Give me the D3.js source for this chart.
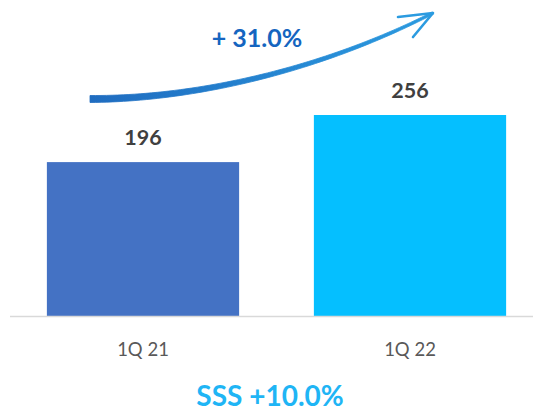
<!DOCTYPE html>
<html>
<head>
<meta charset="utf-8">
<script src="https://cdn.jsdelivr.net/npm/d3@7"></script>
<style>
  html, body { margin: 0; padding: 0; background: #fff; }
  svg { display: block; }
  text { font-family: Lato, "Open Sans", sans-serif; }
</style>
</head>
<body>
<svg id="chart" width="533" height="412"></svg>
<script>
// Quarterly figures
const categories = ["1Q 21", "1Q 22"];
const values = [196, 256];
const barColors = ["#4472C4", "#05BFFF"];
const growthLabel = "+ 31.0%";
const sssLabel = "SSS +10.0%";

const svg = d3.select("#chart");
const baseline = 316;

const x = d3.scaleBand()
  .domain(categories)
  .range([9.5, 543.5])
  .paddingInner(0.28)
  .paddingOuter(0.14);

const y = d3.scaleLinear()
  .domain([0, 256])
  .range([baseline, 115]);

// Bars
svg.selectAll("rect.bar")
  .data(values)
  .join("rect")
  .attr("class", "bar")
  .attr("x", (d, i) => x(categories[i]))
  .attr("width", x.bandwidth())
  .attr("y", d => y(d))
  .attr("height", d => baseline - y(d))
  .attr("fill", (d, i) => barColors[i]);

// Category axis
const axis = svg.append("g")
  .attr("transform", `translate(0,${baseline})`)
  .call(d3.axisBottom(x).tickSize(0).tickPadding(27));
axis.select(".domain").attr("stroke", "#d9d9d9").attr("stroke-width", 1.5);
axis.selectAll("text")
  .attr("font-size", 18.5)
  .attr("fill", "#595959")
  .style("font-family", "Lato, 'Open Sans', sans-serif");

// Value labels
svg.selectAll("text.val")
  .data(values)
  .join("text")
  .attr("class", "val")
  .attr("x", (d, i) => x(categories[i]) + x.bandwidth() / 2)
  .attr("y", d => y(d) - 17)
  .attr("text-anchor", "middle")
  .attr("font-size", 21.5)
  .attr("font-weight", "bold")
  .attr("fill", "#404040")
  .text(d => d);

// Growth arrow: tapered curved stroke
const p0 = [90, 99], p1 = [200, 99], p2 = [325, 68], p3 = [433, 13];
function bez(t) {
  const u = 1 - t;
  return [
    u*u*u*p0[0] + 3*u*u*t*p1[0] + 3*u*t*t*p2[0] + t*t*t*p3[0],
    u*u*u*p0[1] + 3*u*u*t*p1[1] + 3*u*t*t*p2[1] + t*t*t*p3[1]
  ];
}
const n = 60, left = [], right = [];
for (let i = 0; i <= n; i++) {
  const t = i / n;
  const a = bez(Math.max(0, t - 0.001)), b = bez(Math.min(1, t + 0.001));
  const dx = b[0] - a[0], dy = b[1] - a[1], len = Math.hypot(dx, dy);
  const nx = -dy / len, ny = dx / len;
  const w = (7 - 4.5 * t) / 2;
  const p = bez(t);
  left.push([p[0] + nx * w, p[1] + ny * w]);
  right.push([p[0] - nx * w, p[1] - ny * w]);
}
const grad = svg.append("defs").append("linearGradient")
  .attr("id", "arrowGrad").attr("x1", "0%").attr("x2", "100%");
grad.append("stop").attr("offset", "0%").attr("stop-color", "#1f6cc0");
grad.append("stop").attr("offset", "100%").attr("stop-color", "#2b9be0");

svg.append("path")
  .attr("d", d3.line()(left.concat(right.reverse())) + "Z")
  .attr("fill", "url(#arrowGrad)")
  .attr("stroke", "url(#arrowGrad)")
  .attr("stroke-width", 0.8)
  .attr("stroke-linejoin", "round");

svg.append("path")
  .attr("d", "M398,17 L433,13 L413,37")
  .attr("fill", "none")
  .attr("stroke", "#2b9be0")
  .attr("stroke-width", 2.6)
  .attr("stroke-linecap", "round")
  .attr("stroke-linejoin", "round");

svg.append("text")
  .attr("x", 257)
  .attr("y", 47)
  .attr("text-anchor", "middle")
  .attr("font-size", 25)
  .attr("font-weight", "bold")
  .attr("fill", "#1565C0")
  .text(growthLabel);

svg.append("text")
  .attr("x", 270)
  .attr("y", 406)
  .attr("text-anchor", "middle")
  .attr("font-size", 28)
  .attr("font-weight", "bold")
  .attr("fill", "#1FB5F5")
  .text(sssLabel);
</script>
</body>
</html>
